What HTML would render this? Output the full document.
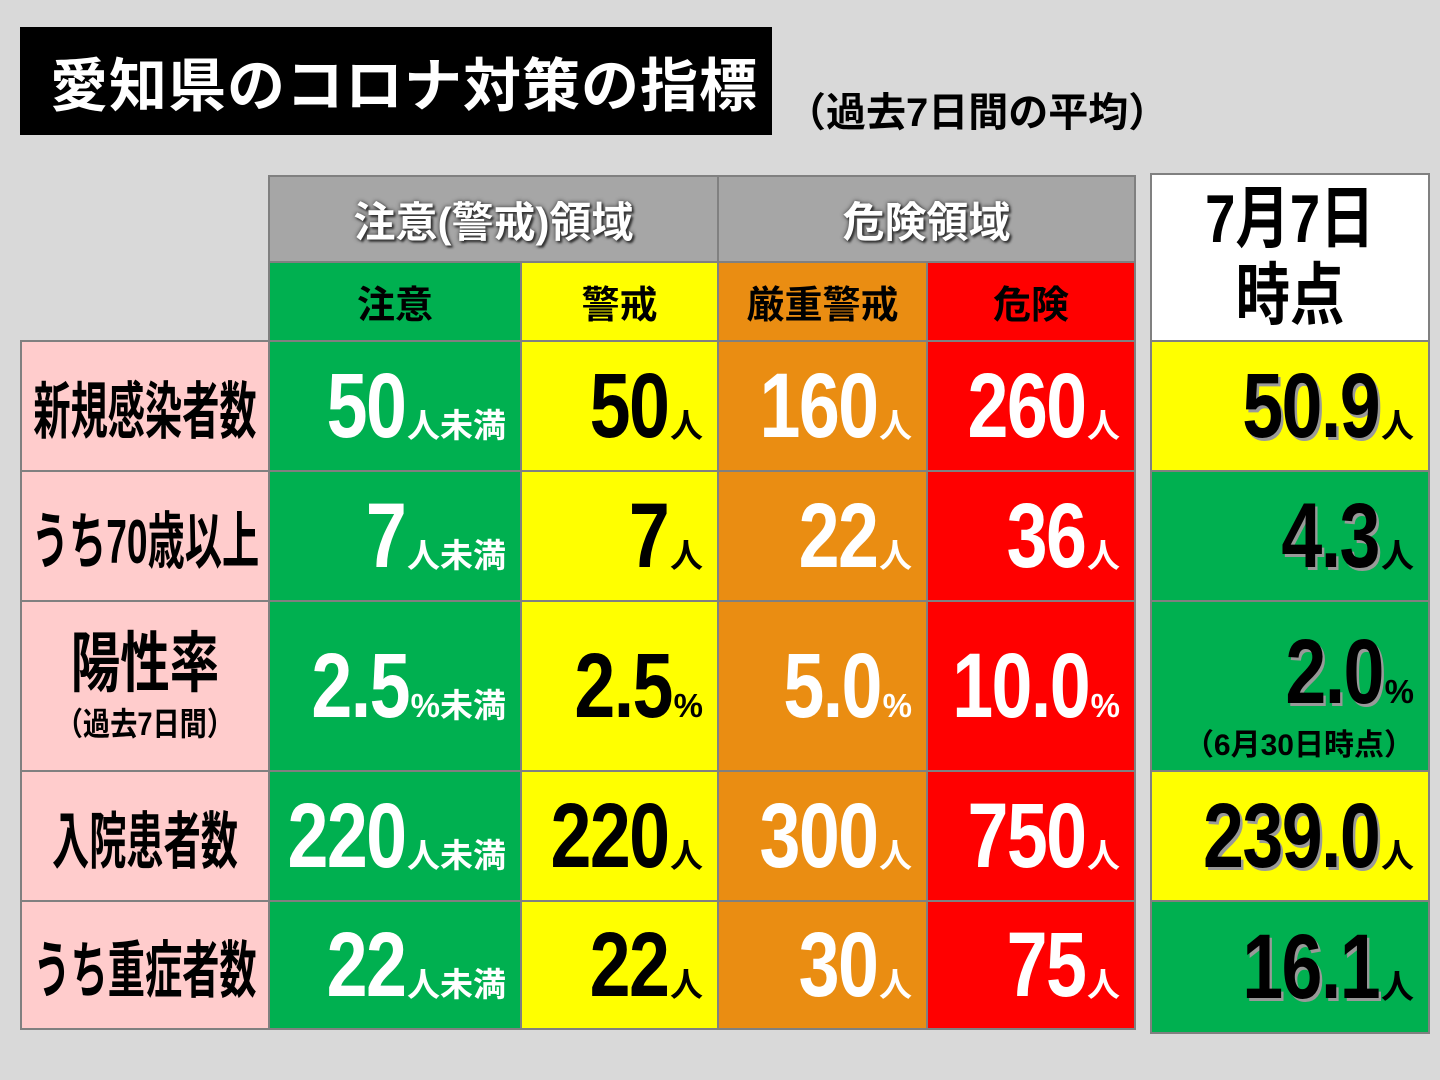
<!DOCTYPE html>
<html><head><meta charset="utf-8">
<style>
*{margin:0;padding:0;box-sizing:border-box}
body{width:1440px;height:1080px;background:#d9d9d9;position:relative;overflow:hidden;font-family:"Liberation Sans","Noto Sans CJK JP",sans-serif;font-weight:bold}
.c{position:absolute;border:2px solid #808080;display:flex;align-items:center;justify-content:center}
.r{justify-content:flex-end;padding-right:14px}
.sq{white-space:nowrap;display:flex;align-items:baseline}
.n{font-size:92px;line-height:1;display:inline-block;transform:scaleX(0.8);transform-origin:right center;letter-spacing:-2px}
.sc{display:inline-block;transform:scaleX(0.8);transform-origin:center center;white-space:nowrap}
.s{font-size:33px;margin-left:2px}
.w{color:#fff}
.k{color:#000}
.sh .n{text-shadow:3px 3px 0 #999}
.hd{color:#fff;font-size:42px;text-shadow:0 0 4px #333,2px 2px 2px #333;white-space:nowrap}
.lb{font-size:62px;color:#000;transform:scaleX(0.6)}
.g{background:#00b050}.y{background:#ffff00}.o{background:#ea8d12}.rd{background:#ff0000}.p{background:#ffcccc}
</style></head><body>
<div style="position:absolute;left:20px;top:27px;width:752px;height:108px;background:#000;color:#fff;font-size:58px;display:flex;align-items:center;padding-left:30px;white-space:nowrap;letter-spacing:1px">愛知県のコロナ対策の指標</div>
<div style="position:absolute;left:786px;top:80px;font-size:40px;color:#000;white-space:nowrap">（過去7日間の平均）</div>

<div class="c" style="left:268px;top:175px;width:451px;height:88px;background:#a6a6a6"><span class="hd">注意(警戒)領域</span></div>
<div class="c" style="left:717px;top:175px;width:419px;height:88px;background:#a6a6a6"><span class="hd">危険領域</span></div>
<div class="c g" style="left:268px;top:261px;width:254px;height:81px"><span style="font-size:38px">注意</span></div>
<div class="c y" style="left:520px;top:261px;width:199px;height:81px"><span style="font-size:38px">警戒</span></div>
<div class="c o" style="left:717px;top:261px;width:211px;height:81px"><span style="font-size:38px">厳重警戒</span></div>
<div class="c rd" style="left:926px;top:261px;width:210px;height:81px"><span style="font-size:38px">危険</span></div>
<div class="c" style="left:1150px;top:173px;width:280px;height:169px;background:#fff;flex-direction:column"><span class="sc" style="font-size:68px;line-height:1.12">7月7日</span><span class="sc" style="font-size:68px;line-height:1.12">時点</span></div>

<div class="c p" style="left:20px;top:340px;width:250px;height:132px"><span class="sc lb">新規感染者数</span></div>
<div class="c g r" style="left:268px;top:340px;width:254px;height:132px"><span class="sq w"><span class="n">50</span><span class="s">人未満</span></span></div>
<div class="c y r" style="left:520px;top:340px;width:199px;height:132px"><span class="sq k"><span class="n">50</span><span class="s">人</span></span></div>
<div class="c o r" style="left:717px;top:340px;width:211px;height:132px"><span class="sq w"><span class="n">160</span><span class="s">人</span></span></div>
<div class="c rd r" style="left:926px;top:340px;width:210px;height:132px"><span class="sq w"><span class="n">260</span><span class="s">人</span></span></div>
<div class="c y r" style="left:1150px;top:340px;width:280px;height:132px"><span class="sq k sh"><span class="n">50.9</span><span class="s">人</span></span></div>

<div class="c p" style="left:20px;top:470px;width:250px;height:132px"><span class="sc lb">うち70歳以上</span></div>
<div class="c g r" style="left:268px;top:470px;width:254px;height:132px"><span class="sq w"><span class="n">7</span><span class="s">人未満</span></span></div>
<div class="c y r" style="left:520px;top:470px;width:199px;height:132px"><span class="sq k"><span class="n">7</span><span class="s">人</span></span></div>
<div class="c o r" style="left:717px;top:470px;width:211px;height:132px"><span class="sq w"><span class="n">22</span><span class="s">人</span></span></div>
<div class="c rd r" style="left:926px;top:470px;width:210px;height:132px"><span class="sq w"><span class="n">36</span><span class="s">人</span></span></div>
<div class="c g r" style="left:1150px;top:470px;width:280px;height:132px"><span class="sq k sh"><span class="n">4.3</span><span class="s">人</span></span></div>

<div class="c p" style="left:20px;top:600px;width:250px;height:172px;flex-direction:column"><span class="sc" style="font-size:66px;line-height:1.1;transform:scaleX(0.75)">陽性率</span><span class="sc" style="font-size:32px;transform:scaleX(0.85)">（過去7日間）</span></div>
<div class="c g r" style="left:268px;top:600px;width:254px;height:172px"><span class="sq w"><span class="n">2.5</span><span class="s">%未満</span></span></div>
<div class="c y r" style="left:520px;top:600px;width:199px;height:172px"><span class="sq k"><span class="n">2.5</span><span class="s">%</span></span></div>
<div class="c o r" style="left:717px;top:600px;width:211px;height:172px"><span class="sq w"><span class="n">5.0</span><span class="s">%</span></span></div>
<div class="c rd r" style="left:926px;top:600px;width:210px;height:172px"><span class="sq w"><span class="n">10.0</span><span class="s">%</span></span></div>
<div class="c g" style="left:1150px;top:600px;width:280px;height:172px;flex-direction:column;align-items:flex-end;padding-right:14px;justify-content:flex-start;padding-top:24px"><span class="sq k sh"><span class="n">2.0</span><span class="s">%</span></span><span style="font-size:30px;margin-top:2px;white-space:nowrap">（6月30日時点）</span></div>

<div class="c p" style="left:20px;top:770px;width:250px;height:132px"><span class="sc lb">入院患者数</span></div>
<div class="c g r" style="left:268px;top:770px;width:254px;height:132px"><span class="sq w"><span class="n">220</span><span class="s">人未満</span></span></div>
<div class="c y r" style="left:520px;top:770px;width:199px;height:132px"><span class="sq k"><span class="n">220</span><span class="s">人</span></span></div>
<div class="c o r" style="left:717px;top:770px;width:211px;height:132px"><span class="sq w"><span class="n">300</span><span class="s">人</span></span></div>
<div class="c rd r" style="left:926px;top:770px;width:210px;height:132px"><span class="sq w"><span class="n">750</span><span class="s">人</span></span></div>
<div class="c y r" style="left:1150px;top:770px;width:280px;height:132px"><span class="sq k sh"><span class="n">239.0</span><span class="s">人</span></span></div>

<div class="c p" style="left:20px;top:900px;width:250px;height:130px"><span class="sc lb">うち重症者数</span></div>
<div class="c g r" style="left:268px;top:900px;width:254px;height:130px"><span class="sq w"><span class="n">22</span><span class="s">人未満</span></span></div>
<div class="c y r" style="left:520px;top:900px;width:199px;height:130px"><span class="sq k"><span class="n">22</span><span class="s">人</span></span></div>
<div class="c o r" style="left:717px;top:900px;width:211px;height:130px"><span class="sq w"><span class="n">30</span><span class="s">人</span></span></div>
<div class="c rd r" style="left:926px;top:900px;width:210px;height:130px"><span class="sq w"><span class="n">75</span><span class="s">人</span></span></div>
<div class="c g r" style="left:1150px;top:900px;width:280px;height:134px"><span class="sq k sh"><span class="n">16.1</span><span class="s">人</span></span></div>
</body></html>
